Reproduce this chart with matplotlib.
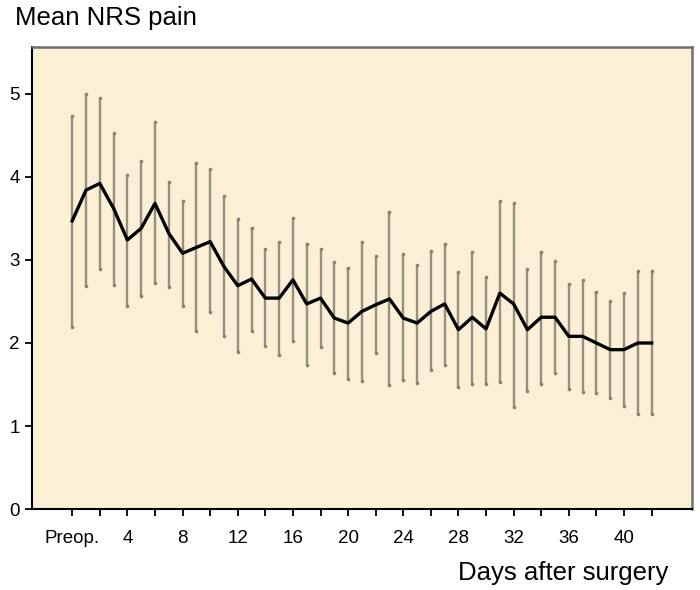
import matplotlib
matplotlib.use("Agg")
import matplotlib.pyplot as plt
import numpy as np

plt.rcParams['font.family'] = ['Liberation Sans', 'DejaVu Sans']

# days 0 (preop) .. 42
days = list(range(0, 43))
mean_pain = [3.47, 3.84, 3.92, 3.62, 3.24, 3.38, 3.68, 3.32, 3.08, 3.15,
             3.22, 2.92, 2.69, 2.77, 2.54, 2.54, 2.76, 2.47, 2.54, 2.30,
             2.24, 2.38, 2.46, 2.53, 2.30, 2.24, 2.38, 2.47, 2.16, 2.31,
             2.17, 2.60, 2.47, 2.16, 2.31, 2.31, 2.08, 2.08, 2.00, 1.92,
             1.92, 2.00, 2.00]
upper = [4.73, 5.00, 4.95, 4.53, 4.02, 4.19, 4.66, 3.94, 3.71, 4.17,
         4.10, 3.77, 3.49, 3.38, 3.13, 3.22, 3.51, 3.19, 3.13, 2.98,
         2.90, 3.22, 3.05, 3.58, 3.07, 2.94, 3.11, 3.19, 2.85, 3.10,
         2.80, 3.71, 3.69, 2.89, 3.10, 2.99, 2.71, 2.76, 2.61, 2.51,
         2.60, 2.87, 2.87]
lower = [2.19, 2.69, 2.89, 2.70, 2.44, 2.57, 2.72, 2.67, 2.44, 2.14,
         2.37, 2.09, 1.89, 2.15, 1.96, 1.86, 2.02, 1.73, 1.95, 1.64,
         1.57, 1.54, 1.88, 1.49, 1.55, 1.52, 1.67, 1.73, 1.47, 1.51,
         1.51, 1.53, 1.23, 1.42, 1.51, 1.64, 1.45, 1.41, 1.40, 1.34,
         1.24, 1.15, 1.14]

tick_pos = list(range(0, 43, 2))
tick_labels = ["Preop." if d == 0 else (str(d) if d % 4 == 0 else "") for d in tick_pos]
y_ticks = [0, 1, 2, 3, 4, 5]

fig = plt.figure(figsize=(7, 5.9), dpi=100)
ax = fig.add_axes([0.046, 0.137, 0.942, 0.783])
ax.set_facecolor('#FBF0D5')

m = np.array(mean_pain)
yerr = [m - np.array(lower), np.array(upper) - m]
ax.errorbar(days, mean_pain, yerr=yerr, fmt='none', ecolor='#978F80',
            elinewidth=1.7, capsize=0, zorder=2)
# faint dots at the bar ends
ax.plot(days, upper, ls='none', marker='o', ms=1.6, color='#8A8373', zorder=2)
ax.plot(days, lower, ls='none', marker='o', ms=1.6, color='#8A8373', zorder=2)
ax.plot(days, mean_pain, color='black', lw=2.4, zorder=3)

ax.set_xlim(-2.9, 44.9)
ax.set_ylim(0, 5.56)
ax.set_xticks(tick_pos)
ax.set_xticklabels(tick_labels)
ax.set_yticks(y_ticks)
ax.tick_params(axis='both', labelsize=13.5, length=5, width=1.3, pad=4)
ax.tick_params(axis='x', pad=10)

for side in ['left', 'bottom']:
    ax.spines[side].set_color('black')
    ax.spines[side].set_linewidth(1.5)
for side in ['top', 'right']:
    ax.spines[side].set_color('#6E6E6E')
    ax.spines[side].set_linewidth(1.8)

fig.text(15 / 700, 1 - 25 / 590, "Mean NRS pain", fontsize=18.5, va='baseline', ha='left')
fig.text(668 / 700, 1 - 580 / 590, "Days after surgery", fontsize=18.5, va='baseline', ha='right')

fig.savefig('out.png', dpi=100)
